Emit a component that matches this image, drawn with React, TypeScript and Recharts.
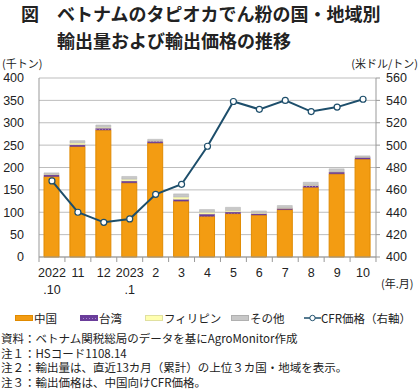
import { ComposedChart, Bar, Line, XAxis, YAxis, CartesianGrid } from "recharts";

// 年.月 (2 lines)
const monthTop = ["2022", "11", "12", "2023", "2", "3", "4", "5", "6", "7", "8", "9", "10"];
const monthBottom = [".10", "", "", ".1", "", "", "", "", "", "", "", "", ""];

// 輸出量 (千トン)
const china = [180, 247, 284, 166, 255, 125, 91, 97, 94, 106, 156, 186, 219];
const taiwan = [4, 4, 4, 4, 4, 4, 5, 4, 3, 3, 4, 4, 4];
const philippines = [1, 4, 2, 4, 1, 5, 4, 3, 2, 1, 1, 1, 1];
const other = [3, 5, 5, 6, 3, 7, 6, 7, 4, 5, 6, 6, 2];

// CFR価格 (米ドル/トン)
const cfr = [468, 440, 431, 434, 456, 465, 499, 539, 532, 540, 530, 534, 541];

const leftTicks = [0, 50, 100, 150, 200, 250, 300, 350, 400];
const rightTicks = [400, 420, 440, 460, 480, 500, 520, 540, 560];

const notes = [
  "資料：ベトナム関税総局のデータを基にAgroMonitor作成",
  "注１：HSコード1108.14",
  "注２：輸出量は、直近13カ月（累計）の上位３カ国・地域を表示。",
  "注３：輸出価格は、中国向けCFR価格。",
];

const data = monthTop.map((m, i) => ({
  name: m,
  china: china[i],
  taiwan: taiwan[i],
  philippines: philippines[i],
  other: other[i],
  cfr: cfr[i],
}));

const FONT = "'Liberation Sans', 'Noto Sans CJK JP', sans-serif";
const JP = "'Noto Sans CJK JP', sans-serif";
const LINE = "#1d4e6b";

function XTick(props: any) {
  const { x, y, payload } = props;
  const i = payload.index;
  const half = 12.96;
  return (
    <g>
      <line x1={x - half} y1={y} x2={x - half} y2={y + 5} stroke="#999" />
      {i === monthTop.length - 1 && <line x1={x + half} y1={y} x2={x + half} y2={y + 5} stroke="#999" />}
      <text x={x} y={y + 20} textAnchor="middle" fontSize={12.5} fill="#222" fontFamily={FONT}>
        {monthTop[i]}
      </text>
      {monthBottom[i] && (
        <text x={x} y={y + 37} textAnchor="middle" fontSize={12.5} fill="#222" fontFamily={FONT}>
          {monthBottom[i]}
        </text>
      )}
    </g>
  );
}

function LegendBox() {
  const items = [
    { label: "中国", fill: "#f39c12", stroke: "#e08a00", x: 15 },
    { label: "台湾", fill: "url(#twPatL)", stroke: "#6a3d9a", x: 80 },
    { label: "フィリピン", fill: "#ffffb0", stroke: "#e0e0a0", x: 145 },
    { label: "その他", fill: "#c8c8c8", stroke: "#b0b0b0", x: 231 },
  ];
  return (
    <div style={{ position: "absolute", left: 0, top: 310, width: 420, height: 16, fontFamily: JP, fontSize: 11.5, lineHeight: "16px", color: "#222" }}>
      <svg width={0} height={0} style={{ position: "absolute" }}>
        <defs>
          <pattern id="twPatL" width="3" height="3" patternUnits="userSpaceOnUse">
            <rect width="3" height="3" fill="#6a3d9a" />
            <rect width="1" height="1" fill="#a78ad0" />
          </pattern>
        </defs>
      </svg>
      {items.map((it) => (
        <div key={it.label} style={{ position: "absolute", left: it.x, top: 0, height: 16, display: "flex", alignItems: "center", whiteSpace: "nowrap" }}>
          <svg width={18} height={6} style={{ marginRight: 1 }}>
            <rect x={0.5} y={0.5} width={17} height={5} fill={it.fill} stroke={it.stroke} />
          </svg>
          <span>{it.label}</span>
        </div>
      ))}
      <div style={{ position: "absolute", left: 304, top: 0, height: 16, display: "flex", alignItems: "center", whiteSpace: "nowrap" }}>
        <svg width={17} height={8} style={{ marginRight: 0 }}>
          <line x1={0} y1={4} x2={17} y2={4} stroke={LINE} strokeWidth={1.5} />
          <circle cx={8.5} cy={4} r={2.7} fill="#fff" stroke={LINE} strokeWidth={1} />
        </svg>
        <span>CFR価格（右軸）</span>
      </div>
    </div>
  );
}

export default function App() {
  return (
    <div style={{ position: "absolute", left: 0, top: 0, width: 420, height: 390, background: "#fff", fontFamily: JP }}>
      <div style={{ position: "absolute", left: 21, top: 0, fontSize: 18, fontWeight: 700, color: "#222", whiteSpace: "nowrap", lineHeight: "26px" }}>
        図
      </div>
      <div style={{ position: "absolute", left: 57, top: 0, fontSize: 18, fontWeight: 700, color: "#222", whiteSpace: "nowrap", lineHeight: "27px" }}>
        ベトナムのタピオカでん粉の国・地域別
        <br />
        輸出量および輸出価格の推移
      </div>
      <div style={{ position: "absolute", left: 2, top: 55, fontSize: 11, color: "#222" }}>(千トン)</div>
      <div style={{ position: "absolute", right: 2, top: 55, fontSize: 11, color: "#222", whiteSpace: "nowrap" }}>(米ドル/トン)</div>
      <div style={{ position: "absolute", left: 381, top: 275, fontSize: 11, color: "#222", whiteSpace: "nowrap" }}>(年.月)</div>

      <div style={{ position: "absolute", left: 0, top: 0 }}>
        <ComposedChart
          width={420}
          height={300}
          data={data}
          margin={{ top: 78, right: 0, bottom: 0, left: 0 }}
          barCategoryGap="42%"
        >
          <defs>
            <pattern id="twPat" width="3" height="3" patternUnits="userSpaceOnUse">
              <rect width="3" height="3" fill="#6a3d9a" />
              <rect width="1" height="1" fill="#a78ad0" />
            </pattern>
          </defs>
          <CartesianGrid yAxisId="left" vertical={false} stroke="#bdbdbd" />
          <XAxis
            dataKey="name"
            height={43}
            interval={0}
            tickLine={false}
            tickSize={0}
            tickMargin={0}
            stroke="#999"
            tick={<XTick />}
          />
          <YAxis
            yAxisId="left"
            width={39}
            domain={[0, 400]}
            ticks={leftTicks}
            interval={0}
            tickLine={false}
            tickSize={0}
            tickMargin={15}
            stroke="#999"
            tick={{ fill: "#222", fontSize: 12.5, fontFamily: FONT }}
          />
          <YAxis
            yAxisId="right"
            orientation="right"
            width={44}
            domain={[400, 560]}
            ticks={rightTicks}
            interval={0}
            tickLine={{ stroke: "#999" }}
            tickSize={4}
            tickMargin={6}
            stroke="#999"
            tick={{ fill: "#222", fontSize: 12.5, fontFamily: FONT, textAnchor: "start" }}
          />
          <Bar yAxisId="left" dataKey="china" stackId="a" barSize={15} fill="#f39c12" stroke="#e08a00" strokeWidth={1} isAnimationActive={false} />
          <Bar yAxisId="left" dataKey="taiwan" stackId="a" barSize={15} fill="url(#twPat)" stroke="#6a3d9a" strokeWidth={0.5} isAnimationActive={false} />
          <Bar yAxisId="left" dataKey="philippines" stackId="a" barSize={15} fill="#ffffb0" stroke="#e6e6a8" strokeWidth={0.5} isAnimationActive={false} />
          <Bar yAxisId="left" dataKey="other" stackId="a" barSize={15} fill="#c8c8c8" stroke="#b0b0b0" strokeWidth={0.5} isAnimationActive={false} />
          <Line
            yAxisId="right"
            dataKey="cfr"
            type="linear"
            stroke={LINE}
            strokeWidth={2}
            dot={{ r: 3, fill: "#fff", stroke: LINE, strokeWidth: 1.2 }}
            isAnimationActive={false}
          />
        </ComposedChart>
      </div>

      <LegendBox />

      <div style={{ position: "absolute", left: 1, top: 331, fontSize: 11.5, color: "#222", lineHeight: "14.7px", whiteSpace: "nowrap" }}>
        {notes.map((n) => (
          <div key={n}>{n}</div>
        ))}
      </div>
    </div>
  );
}
